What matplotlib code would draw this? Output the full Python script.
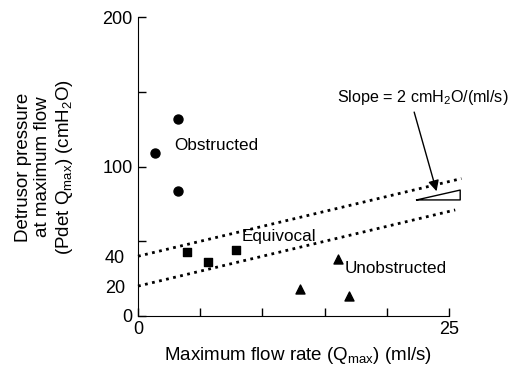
import numpy as np
import matplotlib.pyplot as plt

plt.rcParams['font.family'] = ['Liberation Sans', 'DejaVu Sans']
plt.rcParams['mathtext.fontset'] = 'custom'
plt.rcParams['mathtext.rm'] = 'Liberation Sans'
plt.rcParams['mathtext.it'] = 'Liberation Sans:italic'

# data
obs_x = [3.2, 1.4, 3.2]
obs_y = [132, 109, 84]
equ_x = [3.9, 5.6, 7.9]
equ_y = [42.6, 36.3, 44.4]
uno_x = [16.1, 13.0, 17.0]
uno_y = [37.9, 18.1, 13.6]

upper_icpt = 40
lower_icpt = 20
slope = 2

fig = plt.figure(figsize=(5.13, 3.67), dpi=100)
ax = fig.add_axes([0.269, 0.139, 0.679, 0.814])
ax.set_xlim(0, 28)
ax.set_ylim(0, 200)

ax.scatter(obs_x, obs_y, marker='o', s=42, color='black', zorder=3)
ax.scatter(equ_x, equ_y, marker='s', s=32, color='black', zorder=3)
ax.scatter(uno_x, uno_y, marker='^', s=42, color='black', zorder=3)

xu = np.array([0, 26])
xl = np.array([0, 25.5])
ax.plot(xu, upper_icpt + slope * xu, ls=(0, (1, 1.6)), lw=2, color='black', clip_on=False)
ax.plot(xl, lower_icpt + slope * xl, ls=(0, (1, 1.6)), lw=2, color='black', clip_on=False)

# slope triangle
tri_x = [22.4, 25.9, 25.9, 22.4]
tri_y = [77.7, 84.3, 77.7, 77.7]
ax.plot(tri_x, tri_y, color='black', lw=1, clip_on=False)

ax.text(16.0, 146, 'Slope = 2 cmH$_2$O/(ml/s)', ha='left', va='center', fontsize=11.6,
        clip_on=False)
ax.annotate('', xy=(24.0, 83.5), xytext=(22.2, 136.5), annotation_clip=False,
            arrowprops=dict(arrowstyle='-|>', color='black', lw=1, mutation_scale=16,
                            shrinkA=0, shrinkB=0))

ax.text(2.95, 114, 'Obstructed', fontsize=12.3, va='center')
ax.text(8.3, 53, 'Equivocal', fontsize=12.3, va='center')
ax.text(16.6, 32, 'Unobstructed', fontsize=12.3, va='center')

for s in ['top', 'right']:
    ax.spines[s].set_visible(False)
ax.spines['bottom'].set_bounds(0, 25)
ax.spines['left'].set_bounds(0, 200)

ax.set_xticks([0, 5, 10, 15, 20, 25])
ax.set_xticklabels(['0', '', '', '', '', '25'])
ax.set_yticks([0, 50, 100, 150, 200])
ax.set_yticklabels(['0', '', '100', '', '200'])
ax.set_yticks([20, 40], minor=True)
ax.set_yticklabels(['20', '40'], minor=True)
ax.tick_params(axis='both', which='major', direction='in', length=6, width=1, labelsize=13)
ax.tick_params(axis='y', which='minor', length=0, labelsize=13, pad=9.5)
ax.tick_params(axis='y', which='major', pad=4)

fig.text(45 / 513, 1 - 167 / 367,
         'Detrusor pressure\nat maximum flow\n(Pdet Q$_{\\rm max}$) (cmH$_2$O)',
         rotation=90, ha='center', va='center', multialignment='center', fontsize=13.5,
         linespacing=1.2)
fig.text(298 / 513, 1 - 355 / 367, 'Maximum flow rate (Q$_{\\rm max}$) (ml/s)',
         ha='center', va='center', fontsize=13.5)

fig.savefig('out.png', dpi=100)
